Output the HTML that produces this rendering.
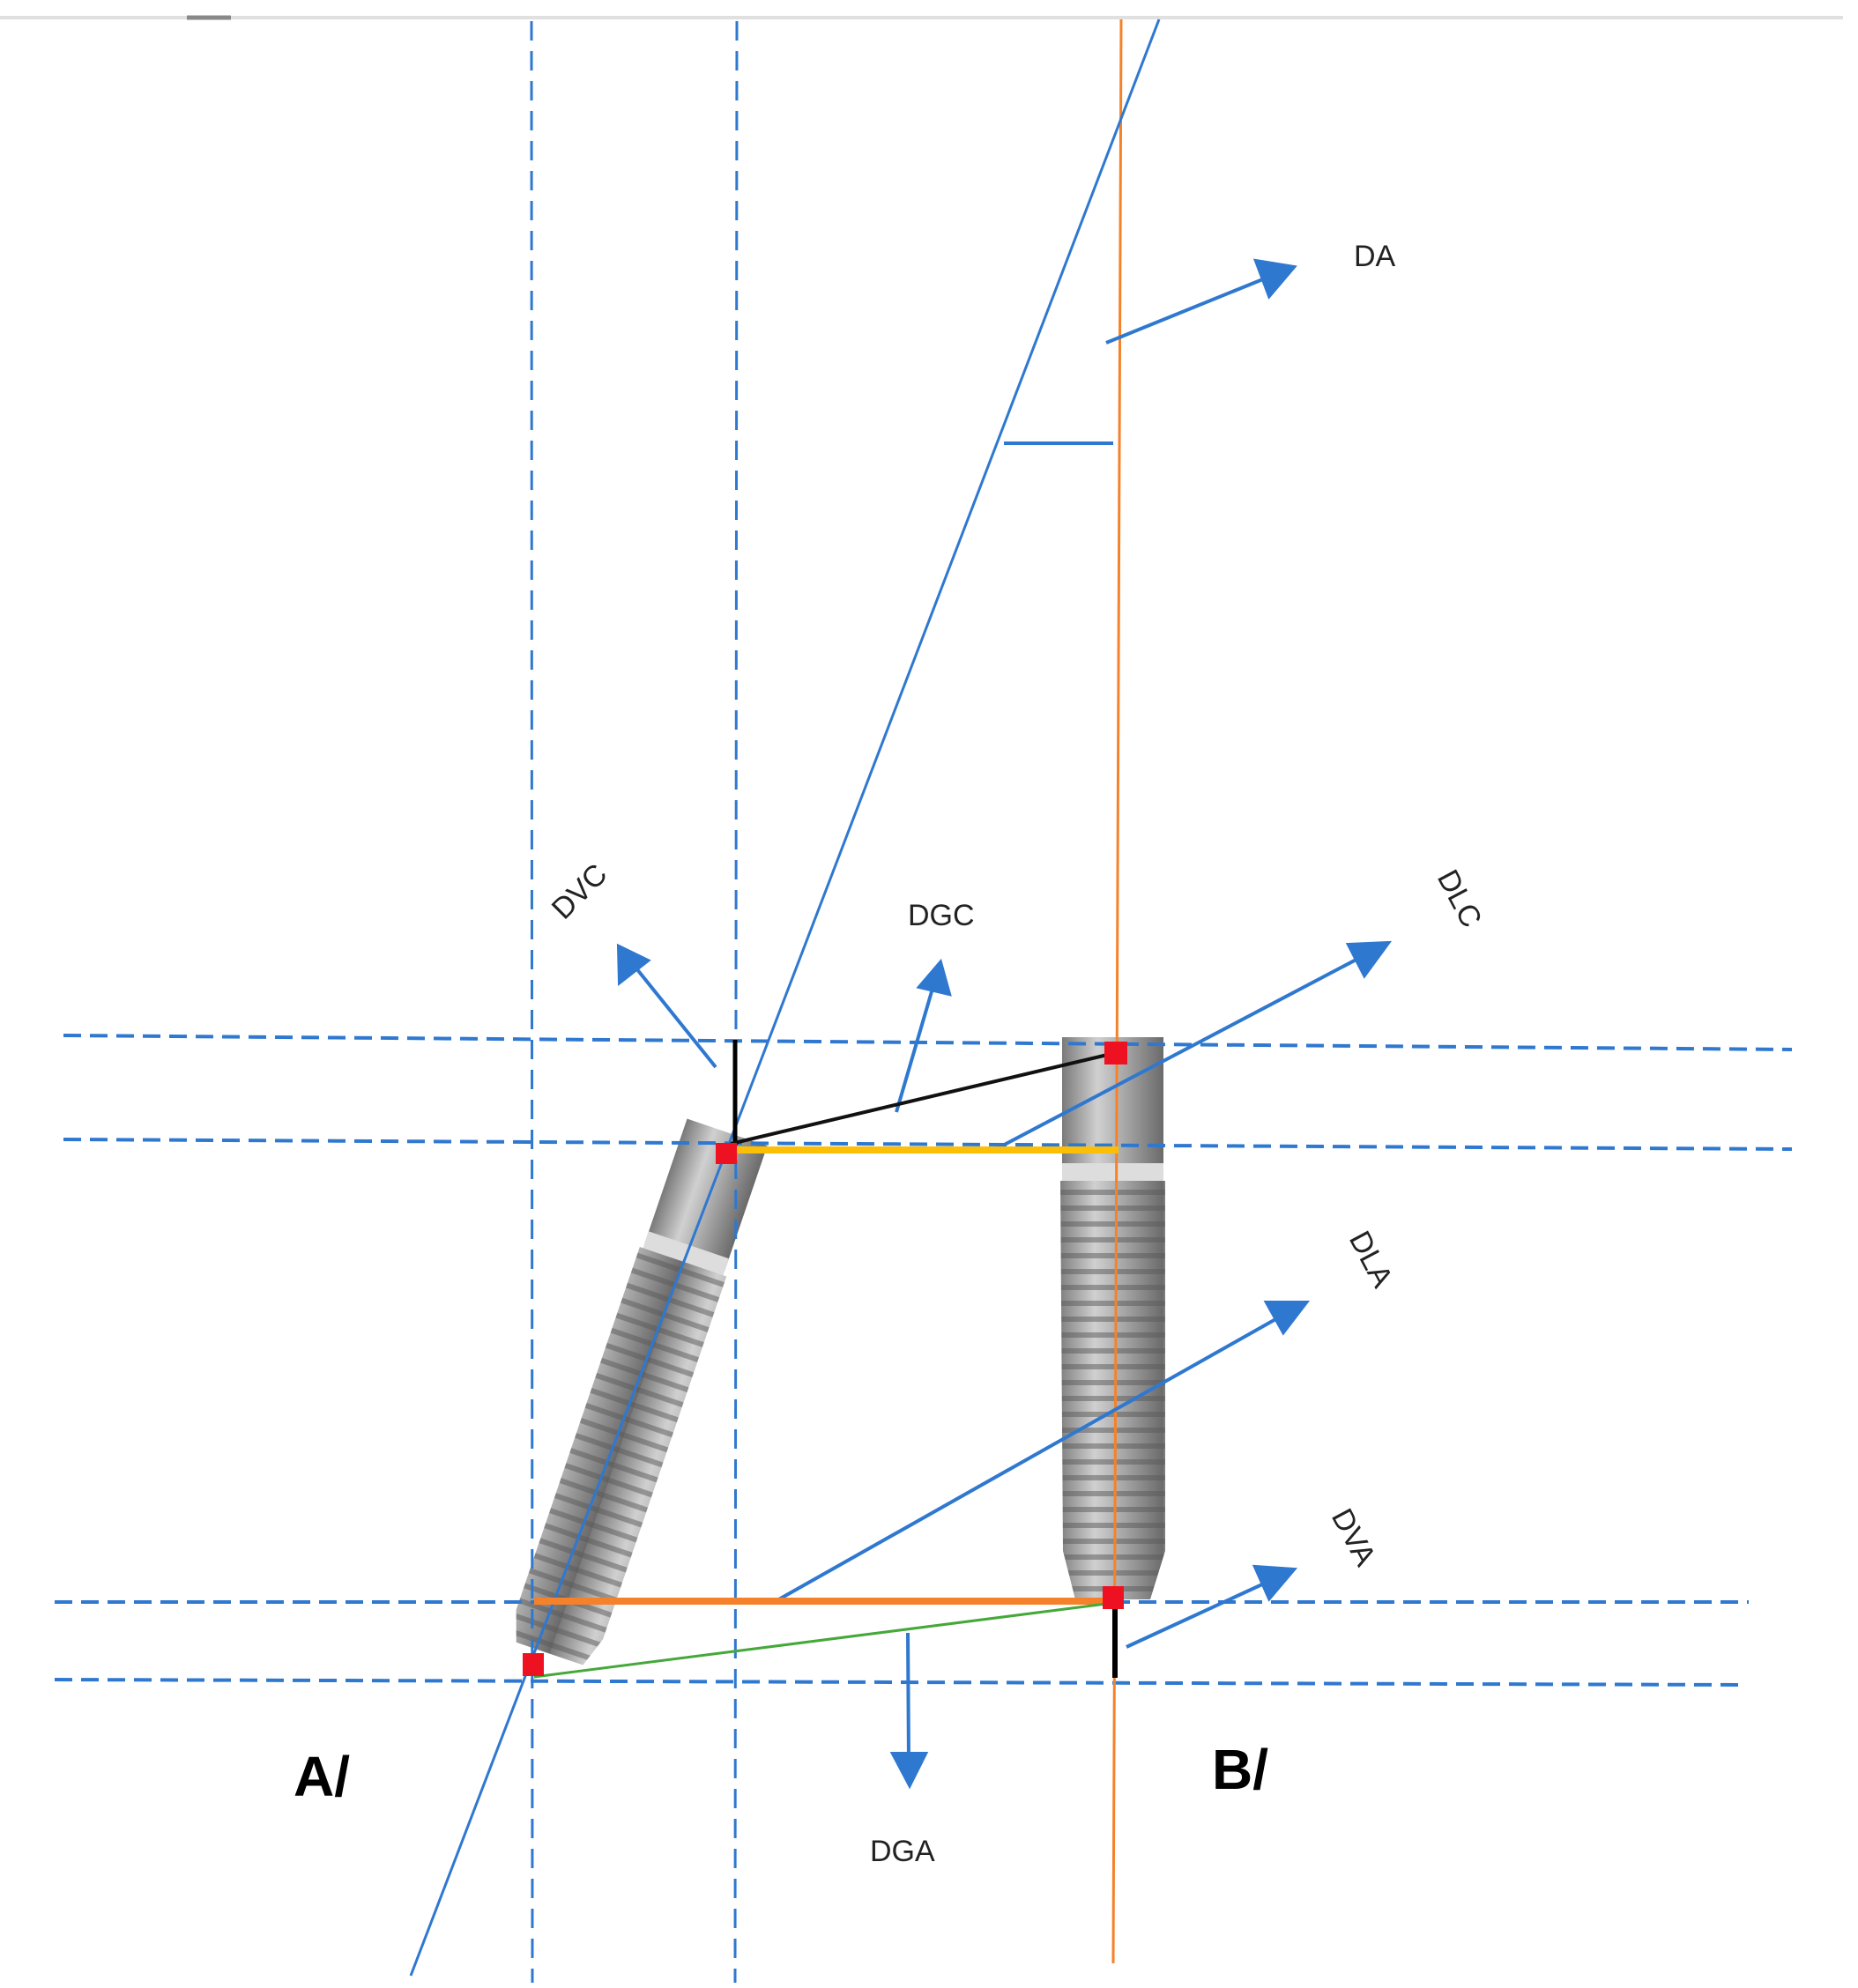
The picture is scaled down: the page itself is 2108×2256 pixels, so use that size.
<!DOCTYPE html>
<html><head><meta charset="utf-8"><style>
html,body{margin:0;padding:0;background:#fff}
svg{display:block}
text{font-family:"Liberation Sans",sans-serif}
</style></head><body>
<svg width="2108" height="2256" viewBox="0 0 2108 2256" xmlns="http://www.w3.org/2000/svg">
<defs>
<linearGradient id="metal" x1="0" x2="1" y1="0" y2="0">
<stop offset="0" stop-color="#7a7a7a"/><stop offset="0.35" stop-color="#d0d0d0"/><stop offset="0.6" stop-color="#aaaaaa"/><stop offset="1" stop-color="#6a6a6a"/>
</linearGradient>
<pattern id="thr" width="120" height="18" patternUnits="userSpaceOnUse">
<rect width="120" height="18" fill="url(#metal)"/>
<rect y="0" width="120" height="6" fill="#5a5a5a" opacity="0.5"/>
</pattern>
</defs>
<rect width="2108" height="2256" fill="#fff"/>
<line x1="0" y1="20" x2="2091" y2="20" stroke="#e0e0e0" stroke-width="4"/>
<line x1="212" y1="20" x2="262" y2="20" stroke="#888" stroke-width="5"/>

<g transform="translate(825,1285) rotate(18.8)">
<rect x="-48" y="0" width="96" height="150" fill="url(#metal)"/>
<rect x="-48" y="135" width="96" height="20" fill="#ddd"/>
<path d="M-52 155 H52 V590 L40 625 H-40 L-52 590 Z" fill="url(#thr)"/>
</g>
<g>
<rect x="1205" y="1177" width="115" height="150" fill="url(#metal)"/>
<rect x="1205" y="1320" width="115" height="20" fill="#ddd"/>
<path d="M1203 1340 H1322 V1760 L1305 1815 H1220 L1206 1760 Z" fill="url(#thr)"/>
</g>

<g stroke="#2f78d0" stroke-width="3" stroke-dasharray="22 12" fill="none">
<line x1="603" y1="24" x2="604" y2="2250"/>
<line x1="836" y1="24" x2="834" y2="2250"/>
</g>
<g stroke="#2f78d0" stroke-width="4" stroke-dasharray="20 10" fill="none">
<line x1="72" y1="1175" x2="2033" y2="1191"/>
<line x1="72" y1="1293" x2="2033" y2="1304"/>
<line x1="62" y1="1818" x2="1984" y2="1818"/>
<line x1="62" y1="1906" x2="1972" y2="1912"/>
</g>

<line x1="1272" y1="22" x2="1263" y2="2228" stroke="#f5822a" stroke-width="3"/>
<line x1="1315" y1="22" x2="466" y2="2242" stroke="#2f78d0" stroke-width="3"/>
<line x1="1139" y1="503" x2="1263" y2="503" stroke="#2f78d0" stroke-width="4"/>

<g stroke="#2f78d0" stroke-width="4" fill="#2f78d0">
<line x1="1255" y1="389" x2="1440" y2="314"/><polygon points="1468,303 1425,296 1440,336"/>
<line x1="812" y1="1211" x2="718" y2="1094"/><polygon points="702,1074 703,1115 735,1090"/>
<line x1="1017" y1="1262" x2="1060" y2="1115"/><polygon points="1067,1092 1043,1120 1077,1128"/>
<line x1="1128" y1="1305" x2="1550" y2="1083"/><polygon points="1575,1070 1530,1072 1548,1107"/>
<line x1="880" y1="1817" x2="1458" y2="1491"/><polygon points="1482,1478 1437,1478 1456,1512"/>
<line x1="1278" y1="1869" x2="1445" y2="1792"/><polygon points="1468,1781 1424,1778 1440,1814"/>
<line x1="1030" y1="1853" x2="1031" y2="2000"/><polygon points="1032,2026 1013,1990 1050,1990"/>
</g>

<line x1="834" y1="1180" x2="834" y2="1300" stroke="#000" stroke-width="5"/>
<line x1="829" y1="1298" x2="1269" y2="1194" stroke="#111" stroke-width="4"/>
<line x1="825" y1="1305" x2="1269" y2="1305" stroke="#fbbf08" stroke-width="8"/>
<line x1="606" y1="1817" x2="1263" y2="1817" stroke="#f5822a" stroke-width="8"/>
<line x1="606" y1="1903" x2="1255" y2="1820" stroke="#45a83a" stroke-width="3"/>
<line x1="1265" y1="1824" x2="1265" y2="1904" stroke="#000" stroke-width="6"/>
<rect x="812" y="1297" width="24" height="24" fill="#ee1122"/>
<rect x="1253" y="1182" width="26" height="26" fill="#ee1122"/>
<rect x="1251" y="1800" width="24" height="26" fill="#ee1122"/>
<rect x="593" y="1876" width="24" height="26" fill="#ee1122"/>

<g font-size="34" fill="#222">
<text x="1536" y="302">DA</text>
<text x="1030" y="1050">DGC</text>
<text x="987" y="2112">DGA</text>
<text transform="translate(640,1045) rotate(-45)">DVC</text>
<text transform="translate(1630,995) rotate(62)">DLC</text>
<text transform="translate(1530,1405) rotate(62)">DLA</text>
<text transform="translate(1510,1720) rotate(62)">DVA</text>
</g>
<g font-size="64" font-weight="bold" fill="#000">
<text x="333" y="2038">A/</text>
<text x="1375" y="2030">B/</text>
</g>
</svg>
</body></html>
